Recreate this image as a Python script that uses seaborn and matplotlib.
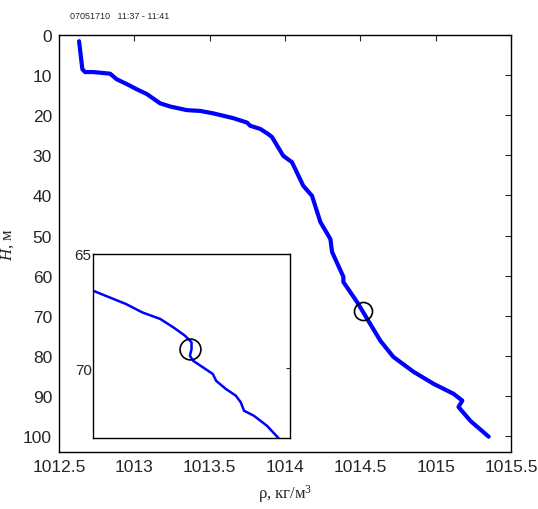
import matplotlib
matplotlib.use("Agg")
import matplotlib.pyplot as plt
import seaborn as sns
import pandas as pd

# main profile: density (kg/m3) vs depth (m)
rho = [1012.633, 1012.655, 1012.673, 1012.728, 1012.839, 1012.883, 1012.95, 1013.016,
       1013.083, 1013.171, 1013.238, 1013.348, 1013.437, 1013.523, 1013.656, 1013.747,
       1013.769, 1013.836, 1013.889, 1013.913, 1013.988, 1014.046, 1014.121, 1014.179,
       1014.234, 1014.301, 1014.312, 1014.387, 1014.387, 1014.478, 1014.553, 1014.633,
       1014.719, 1014.852, 1014.985, 1015.118, 1015.176, 1015.151, 1015.231, 1015.351]
depth = [1.5, 8.5, 9.2, 9.2, 9.6, 11.0, 12.2, 13.5,
         14.7, 17.0, 17.8, 18.7, 18.9, 19.5, 20.7, 21.8,
         22.6, 23.4, 24.7, 25.4, 30.1, 31.7, 37.6, 40.1,
         46.6, 50.9, 54.1, 60.3, 61.6, 66.6, 71.3, 76.3,
         80.3, 84.0, 87.0, 89.5, 91.2, 92.8, 96.3, 100.2]

# zoomed part 65-73 m
rho_zoom = [1014.470, 1014.480, 1014.490, 1014.500, 1014.511, 1014.519, 1014.526,
            1014.530, 1014.530, 1014.529, 1014.531, 1014.537, 1014.543, 1014.545,
            1014.551, 1014.557, 1014.560, 1014.562, 1014.568, 1014.576, 1014.583]
depth_zoom = [66.61, 66.90, 67.19, 67.56, 67.85, 68.22, 68.58,
              68.87, 69.17, 69.46, 69.68, 69.97, 70.26, 70.56,
              70.92, 71.21, 71.50, 71.87, 72.09, 72.53, 73.07]

mark_main = (1014.52, 68.8)
mark_zoom = (1014.529, 69.17)

df = pd.DataFrame({'rho': rho, 'H': depth})
dz = pd.DataFrame({'rho': rho_zoom, 'H': depth_zoom})

sns.set_style("white")
plt.rcParams['font.family'] = ['Liberation Sans', 'DejaVu Sans']
plt.rcParams['mathtext.fontset'] = 'custom'
plt.rcParams['mathtext.it'] = 'Liberation Serif:italic'
plt.rcParams['mathtext.rm'] = 'Liberation Serif'
plt.rcParams['xtick.direction'] = 'in'
plt.rcParams['ytick.direction'] = 'in'

fig = plt.figure(figsize=(5.38, 5.10), dpi=100)
ax = fig.add_axes([0.1097, 0.112, 0.8403, 0.817])
sns.lineplot(data=df, x='rho', y='H', sort=False, estimator=None,
             color='#0000ff', linewidth=3.0, ax=ax)
ax.plot(*mark_main, 'o', mfc='none', mec='black', ms=13, mew=1.2)
ax.set_xlim(1012.5, 1015.5)
ax.set_ylim(104, 0)
ax.set_xticks([1012.5, 1013, 1013.5, 1014, 1014.5, 1015, 1015.5])
ax.set_xticklabels(['1012.5', '1013', '1013.5', '1014', '1014.5', '1015', '1015.5'])
ax.set_yticks(range(0, 101, 10))
ax.tick_params(labelsize=12.5, length=4, width=0.8, top=True, right=True, pad=5)
for s in ax.spines.values():
    s.set_linewidth(1.0)
    s.set_color('black')
ax.set_xlabel(r'ρ, кг/м$^3$', family='Liberation Serif', fontsize=12, labelpad=6)
ax.set_ylabel(r'$H$, м', family='Liberation Serif', fontsize=12)
ax.yaxis.set_label_coords(-0.095, 0.5)
fig.text(0.13, 0.967, '07051710   11:37 - 11:41', fontsize=6.5, ha='left', va='center')

ins = fig.add_axes([0.173, 0.139, 0.366, 0.361])
sns.lineplot(data=dz, x='rho', y='H', sort=False, estimator=None,
             color='#0000ff', linewidth=1.8, ax=ins)
ins.plot(*mark_zoom, 'o', mfc='none', mec='black', ms=15, mew=1.2)
ins.set_xlim(1014.47, 1014.59)
ins.set_ylim(73.07, 65)
ins.set_xticks([])
ins.set_yticks([65, 70])
ins.set_xlabel('')
ins.set_ylabel('')
ins.tick_params(labelsize=11, length=3, right=True, pad=1)
for s in ins.spines.values():
    s.set_linewidth(1.0)
    s.set_color('black')

fig.savefig('out.png', dpi=100)
